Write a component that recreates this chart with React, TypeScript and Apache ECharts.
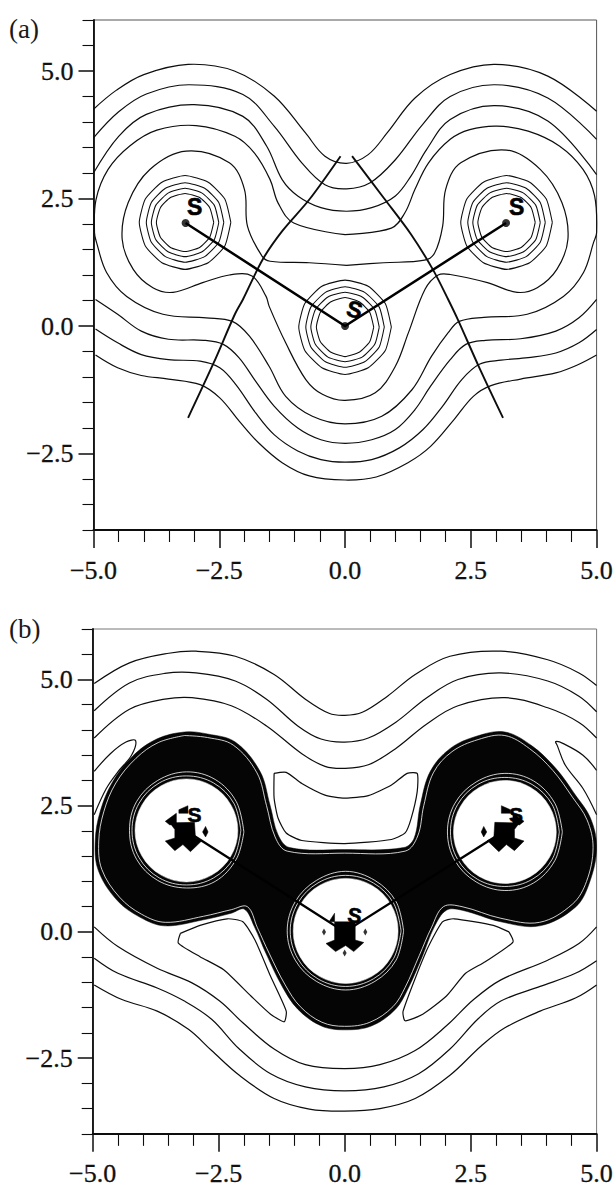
import React, { useEffect, useRef } from "react";
import * as echarts from "echarts";

type P = [number, number];

const xMajorRange = [-5, 5];
const yRange = [-4, 6];
const yMajor = [-2.5, 0, 2.5, 5];
const yMinor = [-4, -3.5, -3, -2, -1.5, -1, -0.5, 0.5, 1, 1.5, 2, 3, 3.5, 4, 4.5, 5.5, 6];
const panelLabels = ["(a)", "(b)"];

// ---------- panel (a) contours ----------
const aTop1: P[] = [[-5, 4.25], [-4.55, 4.62], [-4.0, 4.93], [-3.12, 5.13], [-2.2, 5.0], [-1.41, 4.51], [-0.79, 3.79], [-0.4, 3.33], [0.03, 3.19], [0.46, 3.36], [0.84, 3.79], [1.39, 4.47], [2.09, 4.93], [2.98, 5.13], [4.03, 4.9], [5, 4.21]];
const aTop2: P[] = [[-5, 3.69], [-4.5, 4.2], [-3.95, 4.55], [-3.1, 4.73], [-2.03, 4.54], [-1.41, 3.92], [-0.86, 3.2], [-0.4, 2.77], [0.03, 2.69], [0.5, 2.81], [1, 3.26], [1.54, 3.95], [2.09, 4.5], [2.98, 4.73], [4.03, 4.47], [5, 3.66]];
const aTop3: P[] = [[-5, 3.0], [-4.5, 3.72], [-3.95, 4.15], [-3.0, 4.34], [-2.03, 4.11], [-1.56, 3.53], [-1.25, 2.87], [-0.94, 2.55], [-0.48, 2.32], [0.03, 2.25], [0.53, 2.32], [1, 2.55], [1.31, 2.94], [1.62, 3.46], [2.09, 4.05], [2.98, 4.32], [4.03, 4.02], [5, 2.97]];
const aMid4: P[] = [[0, 1.79], [0.92, 1.92], [1.19, 2.22], [1.39, 2.68], [1.66, 3.2], [2.09, 3.66], [2.48, 3.85], [3.02, 3.92], [3.64, 3.82], [4.26, 3.53], [4.73, 3.07], [4.96, 2.55], [5, 1.83], [4.94, 1.64], [4.74, 1.05], [4.34, 0.58], [3.62, 0.23], [2.76, 0.17], [2.27, 0.09], [2.05, -0.13], [1.72, -0.59], [1.33, -1.25], [0.73, -1.77], [0, -1.92], [-0.65, -1.77], [-1.18, -1.38], [-1.51, -0.79], [-1.9, -0.2], [-2.24, 0.09], [-2.76, 0.16], [-3.62, 0.23], [-4.34, 0.58], [-4.74, 1.05], [-4.94, 1.64], [-4.98, 1.83], [-4.95, 2.48], [-4.71, 3.07], [-4.28, 3.53], [-3.74, 3.84], [-2.96, 3.93], [-2.19, 3.72], [-1.8, 3.39], [-1.49, 2.87], [-1.33, 2.41], [-1.02, 2.02], [0, 1.79]];
const aMid5: P[] = [[0.03, 1.19], [0.77, 1.24], [1.58, 1.29], [1.78, 1.43], [1.94, 1.96], [2.0, 2.68], [2.3, 3.2], [3.21, 3.45], [3.88, 3.07], [4.31, 2.42], [4.43, 1.7], [4.21, 1.11], [3.82, 0.75], [3.42, 0.66], [2.83, 0.85], [2.09, 1.01], [1.85, 1.0], [1.59, 0.72], [1.26, -0.13], [1.0, -0.79], [0.6, -1.31], [0, -1.46], [-0.45, -1.34], [-0.78, -1.05], [-1.18, -0.33], [-1.51, 0.39], [-1.57, 0.58], [-1.85, 0.98], [-2.3, 1.0], [-2.83, 0.85], [-3.42, 0.66], [-3.82, 0.75], [-4.21, 1.11], [-4.43, 1.7], [-4.31, 2.42], [-3.88, 3.07], [-3.16, 3.43], [-2.3, 3.2], [-2.0, 2.68], [-1.94, 1.96], [-1.65, 1.37], [-1.49, 1.27], [-0.71, 1.24], [0.03, 1.19]];
const aLow1: P[] = [[-4.96, 0.52], [-4.52, 0.23], [-4.05, -0.1], [-3.51, -0.26], [-2.81, -0.28], [-2.42, -0.36], [-2.11, -0.62], [-1.8, -1.05], [-1.41, -1.57], [-0.94, -2.0], [-0.48, -2.23], [0, -2.3], [0.53, -2.23], [1.0, -2.03], [1.39, -1.64], [1.7, -1.18], [2.09, -0.66], [2.4, -0.36], [2.79, -0.28], [3.49, -0.25], [4.19, -0.1], [4.65, 0.16], [5, 0.52]];
const aLow2: P[] = [[-4.96, -0.06], [-4.52, -0.33], [-4.05, -0.56], [-3.51, -0.66], [-2.88, -0.69], [-2.49, -0.82], [-2.17, -1.15], [-1.78, -1.7], [-1.41, -2.13], [-0.94, -2.45], [-0.48, -2.62], [0, -2.67], [0.53, -2.62], [1.08, -2.39], [1.55, -2.03], [1.94, -1.57], [2.32, -1.05], [2.67, -0.75], [3.1, -0.67], [3.64, -0.62], [4.19, -0.53], [4.65, -0.33], [5, -0.07]];
const aLow3: P[] = [[-4.96, -0.57], [-4.52, -0.82], [-4.05, -0.97], [-3.51, -1.04], [-2.88, -1.15], [-2.49, -1.41], [-2.1, -1.87], [-1.72, -2.29], [-1.25, -2.68], [-0.71, -2.94], [0, -3.02], [0.62, -2.96], [1.25, -2.68], [1.7, -2.36], [2.17, -1.83], [2.55, -1.38], [2.9, -1.17], [3.49, -1.04], [4.19, -0.92], [4.65, -0.75], [5, -0.57]];
const aContours = [aTop1, aTop2, aTop3, aMid4, aMid5, aLow1, aLow2, aLow3];

const aRingsLeft: P[][] = [
  [[-2.27, 2.03], [-2.39, 2.49], [-2.72, 2.82], [-3.18, 2.95], [-3.64, 2.82], [-3.97, 2.49], [-4.09, 2.03], [-3.97, 1.57], [-3.64, 1.24], [-3.18, 1.11], [-2.72, 1.24], [-2.39, 1.57], [-2.27, 2.03]],
  [[-2.41, 2.03], [-2.51, 2.42], [-2.79, 2.7], [-3.18, 2.81], [-3.57, 2.7], [-3.85, 2.42], [-3.95, 2.03], [-3.85, 1.64], [-3.57, 1.36], [-3.18, 1.25], [-2.79, 1.36], [-2.51, 1.64], [-2.41, 2.03]],
  [[-2.51, 2.03], [-2.6, 2.37], [-2.85, 2.61], [-3.18, 2.7], [-3.51, 2.61], [-3.76, 2.37], [-3.85, 2.03], [-3.76, 1.69], [-3.51, 1.45], [-3.18, 1.36], [-2.85, 1.45], [-2.6, 1.69], [-2.51, 2.03]],
  [[-2.61, 2.03], [-2.69, 2.32], [-2.89, 2.52], [-3.18, 2.6], [-3.47, 2.52], [-3.67, 2.32], [-3.75, 2.03], [-3.67, 1.74], [-3.47, 1.54], [-3.18, 1.46], [-2.89, 1.54], [-2.69, 1.74], [-2.61, 2.03]],
];
const aRingsRight: P[][] = [
  [[4.12, 2.03], [4.0, 2.49], [3.67, 2.82], [3.21, 2.95], [2.75, 2.82], [2.42, 2.49], [2.3, 2.03], [2.42, 1.57], [2.75, 1.24], [3.21, 1.11], [3.67, 1.24], [4.0, 1.57], [4.12, 2.03]],
  [[3.98, 2.03], [3.88, 2.42], [3.6, 2.7], [3.21, 2.81], [2.82, 2.7], [2.54, 2.42], [2.44, 2.03], [2.54, 1.64], [2.82, 1.36], [3.21, 1.25], [3.6, 1.36], [3.88, 1.64], [3.98, 2.03]],
  [[3.88, 2.03], [3.79, 2.37], [3.54, 2.61], [3.21, 2.7], [2.88, 2.61], [2.63, 2.37], [2.54, 2.03], [2.63, 1.69], [2.88, 1.45], [3.21, 1.36], [3.54, 1.45], [3.79, 1.69], [3.88, 2.03]],
  [[3.78, 2.03], [3.7, 2.32], [3.5, 2.52], [3.21, 2.6], [2.92, 2.52], [2.72, 2.32], [2.64, 2.03], [2.72, 1.74], [2.92, 1.54], [3.21, 1.46], [3.5, 1.54], [3.7, 1.74], [3.78, 2.03]],
];
const aRingsCenter: P[][] = [
  [[0.92, -0.02], [0.8, 0.44], [0.46, 0.78], [0, 0.9], [-0.46, 0.78], [-0.8, 0.44], [-0.92, -0.02], [-0.8, -0.48], [-0.46, -0.82], [0, -0.95], [0.46, -0.82], [0.8, -0.48], [0.92, -0.02]],
  [[0.78, -0.02], [0.68, 0.37], [0.39, 0.66], [0, 0.77], [-0.39, 0.66], [-0.68, 0.37], [-0.78, -0.02], [-0.68, -0.41], [-0.39, -0.7], [0, -0.81], [0.39, -0.7], [0.68, -0.41], [0.78, -0.02]],
  [[0.68, -0.02], [0.59, 0.32], [0.34, 0.57], [0, 0.66], [-0.34, 0.57], [-0.59, 0.32], [-0.68, -0.02], [-0.59, -0.36], [-0.34, -0.61], [0, -0.7], [0.34, -0.61], [0.59, -0.36], [0.68, -0.02]],
  [[0.57, -0.02], [0.49, 0.27], [0.29, 0.47], [0, 0.56], [-0.29, 0.47], [-0.49, 0.27], [-0.57, -0.02], [-0.49, -0.31], [-0.29, -0.51], [0, -0.6], [0.29, -0.51], [0.49, -0.31], [0.57, -0.02]],
];
const aSeparatrixLeft: P[] = [[-0.09, 3.33], [-0.71, 2.48], [-1.25, 1.86], [-1.64, 1.3], [-2.03, 0.52], [-2.19, 0.23], [-2.61, -0.72], [-3.12, -1.8]];
const aSeparatrixRight: P[] = [[0.14, 3.33], [0.77, 2.51], [1.31, 1.8], [1.75, 1.1], [2.05, 0.52], [2.24, 0.13], [2.67, -0.82], [3.14, -1.8]];
const atoms: P[] = [[-3.17, 2.02], [0, 0], [3.2, 2.02]];
const aSymbols: [number, number, number][] = [[-2.99, 2.34, 0], [0.19, 0.32, -14], [3.41, 2.34, 0]];

// ---------- panel (b) contours ----------
const bTop1: P[] = [[-4.97, 4.92], [-4.27, 5.33], [-3.49, 5.52], [-2.95, 5.56], [-2.17, 5.46], [-1.4, 5.1], [-0.78, 4.61], [-0.31, 4.33], [0, 4.29], [0.35, 4.35], [0.85, 4.67], [1.4, 5.1], [2.09, 5.46], [3.1, 5.56], [4.03, 5.39], [4.65, 5.13], [5, 4.88]];
const bTop2: P[] = [[-4.97, 4.38], [-4.27, 4.93], [-3.57, 5.12], [-2.95, 5.13], [-2.17, 4.97], [-1.55, 4.61], [-0.93, 4.08], [-0.47, 3.82], [0, 3.76], [0.47, 3.84], [1.01, 4.15], [1.63, 4.64], [2.25, 5.0], [3.1, 5.13], [4.03, 4.97], [4.65, 4.67], [5, 4.36]];
const bTop3: P[] = [[-4.97, 3.84], [-4.27, 4.41], [-3.57, 4.61], [-3.03, 4.64], [-2.25, 4.48], [-1.55, 4.08], [-0.85, 3.53], [-0.39, 3.28], [0, 3.24], [0.47, 3.31], [1.01, 3.63], [1.63, 4.12], [2.25, 4.48], [3.18, 4.64], [4.03, 4.44], [4.65, 4.15], [5, 3.84]];
const bLow1: P[] = [[-4.97, 0.1], [-4.5, -0.29], [-3.72, -0.72], [-3.03, -1.01], [-2.48, -1.37], [-2.02, -1.8], [-1.4, -2.32], [-0.78, -2.63], [0, -2.71], [0.7, -2.63], [1.4, -2.35], [2.02, -1.86], [2.56, -1.34], [3.1, -0.95], [4.03, -0.56], [4.65, -0.23], [5, 0.1]];
const bLow2: P[] = [[-4.97, -0.52], [-4.5, -0.82], [-3.72, -1.11], [-3.18, -1.37], [-2.64, -1.73], [-2.09, -2.32], [-1.47, -2.81], [-0.78, -3.07], [0, -3.15], [0.78, -3.07], [1.47, -2.81], [2.09, -2.32], [2.64, -1.73], [3.1, -1.37], [3.88, -1.08], [4.58, -0.82], [5, -0.57]];
const bLow3: P[] = [[-4.97, -1.05], [-4.42, -1.34], [-3.72, -1.57], [-3.1, -1.93], [-2.64, -2.35], [-2.09, -2.84], [-1.4, -3.3], [-0.7, -3.51], [0, -3.55], [0.7, -3.5], [1.4, -3.3], [2.09, -2.84], [2.72, -2.25], [3.18, -1.9], [3.88, -1.57], [4.58, -1.31], [5, -1.05]];
const bCornerLeft: P[] = [[-4.97, 3.18], [-4.65, 3.53], [-4.34, 3.76], [-4.15, 3.79], [-4.23, 3.5], [-4.5, 3.17], [-4.73, 2.84], [-4.97, 2.32]];
const bCornerRight: P[] = [[5, 3.2], [4.73, 3.5], [4.34, 3.73], [4.19, 3.77], [4.22, 3.69], [4.38, 3.3], [4.73, 2.84], [5, 2.32]];
const bIslandTop: P[] = [[-1.4, 3.14], [-1.16, 3.16], [-0.85, 2.94], [-0.39, 2.71], [0, 2.65], [0.47, 2.7], [0.93, 2.91], [1.24, 3.14], [1.44, 3.14], [1.44, 2.78], [1.32, 2.25], [1.2, 1.96], [0.93, 1.83], [0, 1.75], [-0.85, 1.81], [-1.16, 1.96], [-1.32, 2.25], [-1.4, 2.65], [-1.4, 3.14]];
const bIslandLeft: P[] = [[-3.26, -0.03], [-2.87, 0.13], [-2.33, 0.26], [-2.02, 0.2], [-1.78, -0.16], [-1.47, -0.88], [-1.16, -1.57], [-1.2, -1.78], [-1.47, -1.63], [-1.86, -1.27], [-2.4, -0.75], [-2.87, -0.49], [-3.3, -0.22], [-3.26, -0.03]];
const bIslandRight: P[] = [[3.26, 0], [2.95, 0.13], [2.17, 0.26], [1.94, 0.2], [1.63, -0.36], [1.16, -1.57], [1.2, -1.76], [1.55, -1.63], [2.02, -1.27], [2.4, -0.82], [2.79, -0.59], [3.34, -0.2], [3.26, 0]];
const bContours = [bTop1, bTop2, bTop3, bLow1, bLow2, bLow3, bCornerLeft, bCornerRight];
const bIslands = [bIslandTop, bIslandLeft, bIslandRight];

const bDense: P[] = [[-3.18, 3.96], [-3.73, 3.82], [-4.2, 3.49], [-4.6, 2.98], [-4.85, 2.39], [-4.95, 1.8], [-4.89, 1.22], [-4.52, 0.63], [-4.06, 0.29], [-3.57, 0.12], [-2.8, 0.24], [-2.25, 0.37], [-1.99, 0.45], [-1.79, 0.1], [-1.56, -0.43], [-1.24, -1.08], [-0.93, -1.53], [-0.47, -1.86], [0, -1.94], [0.54, -1.86], [1.01, -1.53], [1.25, -1.14], [1.54, -0.49], [1.78, 0.1], [2.02, 0.43], [2.33, 0.43], [3.1, 0.2], [3.87, 0.12], [4.58, 0.49], [4.86, 0.98], [5, 1.67], [4.88, 2.25], [4.58, 2.71], [4.19, 3.24], [3.71, 3.69], [3.18, 3.96], [2.63, 3.88], [2.09, 3.63], [1.7, 3.18], [1.5, 2.51], [1.38, 1.86], [1.17, 1.67], [0, 1.63], [-1.09, 1.67], [-1.32, 1.92], [-1.48, 2.51], [-1.68, 3.18], [-2.17, 3.76], [-2.72, 3.92]];
const bDenseGap: P[] = [[-3.18, 3.89], [-3.7, 3.75], [-4.14, 3.44], [-4.54, 2.95], [-4.78, 2.38], [-4.88, 1.8], [-4.82, 1.24], [-4.47, 0.69], [-4.03, 0.35], [-3.56, 0.19], [-2.8, 0.31], [-2.25, 0.44], [-1.93, 0.5], [-1.73, 0.08], [-1.5, -0.42], [-1.18, -1.05], [-0.88, -1.48], [-0.45, -1.79], [0, -1.87], [0.5, -1.79], [0.96, -1.48], [1.2, -1.1], [1.48, -0.47], [1.72, 0.08], [1.96, 0.5], [2.33, 0.5], [3.1, 0.27], [3.87, 0.19], [4.52, 0.55], [4.8, 1.0], [4.93, 1.67], [4.81, 2.22], [4.52, 2.67], [4.13, 3.2], [3.67, 3.63], [3.18, 3.89], [2.65, 3.81], [2.13, 3.57], [1.76, 3.15], [1.57, 2.5], [1.45, 1.9], [1.2, 1.6], [0, 1.56], [-1.14, 1.6], [-1.38, 1.88], [-1.55, 2.5], [-1.74, 3.15], [-2.21, 3.7], [-2.72, 3.85], [-3.18, 3.89]];

const bHoles: P[][] = [
  [[-2.12, 2.01], [-2.26, 2.52], [-2.63, 2.89], [-3.14, 3.03], [-3.65, 2.89], [-4.02, 2.52], [-4.16, 2.01], [-4.02, 1.5], [-3.65, 1.13], [-3.14, 0.99], [-2.63, 1.13], [-2.26, 1.5]],
  [[4.2, 1.98], [4.06, 2.49], [3.69, 2.86], [3.18, 3.0], [2.67, 2.86], [2.3, 2.49], [2.16, 1.98], [2.3, 1.47], [2.67, 1.1], [3.18, 0.96], [3.69, 1.1], [4.06, 1.47]],
  [[1.06, 0.02], [0.92, 0.54], [0.54, 0.92], [0.02, 1.06], [-0.5, 0.92], [-0.88, 0.54], [-1.02, 0.02], [-0.88, -0.5], [-0.5, -0.88], [0.02, -1.02], [0.54, -0.88], [0.92, -0.5]],
];
const bHoleRings: P[][] = [
  [[-2.06, 2.01], [-2.2, 2.55], [-2.6, 2.95], [-3.14, 3.09], [-3.68, 2.95], [-4.08, 2.55], [-4.22, 2.01], [-4.08, 1.47], [-3.68, 1.07], [-3.14, 0.93], [-2.6, 1.07], [-2.2, 1.47], [-2.06, 2.01]],
  [[-2.0, 1.98], [-2.15, 2.58], [-2.57, 3.02], [-3.14, 3.17], [-3.71, 3.0], [-4.13, 2.58], [-4.27, 2.01], [-4.13, 1.44], [-3.71, 1.02], [-3.14, 0.87], [-2.57, 1.0], [-2.15, 1.44], [-2.0, 1.98]],
  [[4.26, 1.98], [4.12, 2.52], [3.72, 2.92], [3.18, 3.06], [2.64, 2.92], [2.24, 2.52], [2.1, 1.98], [2.24, 1.44], [2.64, 1.04], [3.18, 0.9], [3.72, 1.04], [4.12, 1.44], [4.26, 1.98]],
  [[4.32, 1.98], [4.17, 2.55], [3.75, 2.99], [3.18, 3.14], [2.61, 2.97], [2.19, 2.55], [2.04, 1.98], [2.19, 1.41], [2.61, 0.99], [3.18, 0.82], [3.75, 0.97], [4.17, 1.41], [4.32, 1.98]],
  [[1.12, 0.02], [0.97, 0.57], [0.57, 0.97], [0.02, 1.12], [-0.53, 0.97], [-0.93, 0.57], [-1.08, 0.02], [-0.93, -0.53], [-0.53, -0.93], [0.02, -1.08], [0.57, -0.93], [0.97, -0.53], [1.12, 0.02]],
  [[1.17, 0.02], [1.02, 0.6], [0.6, 1.02], [0.02, 1.2], [-0.56, 1.02], [-0.98, 0.6], [-1.14, 0.02], [-0.98, -0.56], [-0.56, -0.98], [0.02, -1.15], [0.6, -0.98], [1.02, -0.56], [1.17, 0.02]],
];
const bCores: P[][] = [
  [[-3.47, 2.16], [-2.98, 2.17], [-2.96, 1.86], [-2.83, 1.81], [-3.06, 1.59], [-3.21, 1.73], [-3.37, 1.61], [-3.56, 1.8], [-3.37, 1.86], [-3.37, 2.03]],
  [[-3.56, 2.19], [-3.34, 2.35], [-3.34, 2.14], [-3.47, 2.12]],
  [[-3.29, 2.42], [-3.11, 2.5], [-3.11, 2.35], [-3.29, 2.35]],
  [[-2.76, 2.09], [-2.71, 1.98], [-2.76, 1.88], [-2.82, 1.98]],
  [[3.47, 2.16], [2.98, 2.17], [2.96, 1.86], [2.83, 1.81], [3.06, 1.59], [3.21, 1.73], [3.37, 1.61], [3.56, 1.8], [3.37, 1.86], [3.37, 2.03]],
  [[3.56, 2.19], [3.34, 2.35], [3.34, 2.14], [3.47, 2.12]],
  [[3.29, 2.42], [3.11, 2.5], [3.11, 2.35], [3.29, 2.35]],
  [[2.76, 2.09], [2.71, 1.98], [2.76, 1.88], [2.82, 1.98]],
  [[-0.2, 0.37], [-0.31, 0.2], [-0.2, 0.2]],
  [[-0.2, 0.2], [0.21, 0.2], [0.21, -0.16], [0.38, -0.21], [0.18, -0.39], [0.02, -0.27], [-0.18, -0.39], [-0.37, -0.23], [-0.2, -0.16]],
];
const bCoreDots: P[] = [[-0.41, 0], [0.41, 0], [0, -0.42]];
const bSymbols: [number, number, number][] = [[-2.98, 2.33, 0], [0.2, 0.33, -8], [3.4, 2.32, 0]];

const INK = "#0d0d0d";

function App() {
  const ref = useRef<HTMLDivElement>(null);
  useEffect(() => {
    const chart = echarts.init(ref.current!, undefined, { renderer: "svg" });
    const lineS = (panel: number, pts: P[], o: any = {}) => ({
      type: "custom",
      xAxisIndex: panel,
      yAxisIndex: panel * 2,
      data: [pts[0]],
      silent: true,
      clip: true,
      z: o.z ?? 3,
      renderItem: (_: any, api: any) => ({
        type: "polyline",
        shape: { points: pts.map((p) => api.coord(p)), smooth: o.smooth ?? 0.36 },
        style: { fill: "none", stroke: o.color ?? INK, lineWidth: o.width ?? 1.2 },
      }),
    });
    const polyS = (panel: number, pts: P[], fill: string, z: number, smooth = 0) => ({
      type: "custom",
      xAxisIndex: panel,
      yAxisIndex: panel * 2,
      data: [pts[0]],
      silent: true,
      z,
      clip: true,
      renderItem: (_: any, api: any) => ({
        type: "polygon",
        shape: { points: pts.map((p) => api.coord(p)), smooth },
        style: { fill, stroke: fill, lineWidth: 0.5 },
      }),
    });
    const labelS = (panel: number, syms: [number, number, number][], size: number) => ({
      type: "scatter",
      xAxisIndex: panel,
      yAxisIndex: panel * 2,
      symbolSize: 1,
      itemStyle: { color: "#000", opacity: 0 },
      silent: true,
      z: 8,
      data: syms.map((s) => ({
        value: [s[0], s[1]],
        label: {
          show: true,
          position: "inside",
          formatter: "S",
          rotate: s[2],
          color: "#000",
          opacity: 1,
          textBorderColor: "#000",
          textBorderWidth: 0.6,
          fontFamily: "Liberation Sans",
          fontWeight: "bold",
          fontSize: size,
        },
      })),
    });

    const series: any[] = [];
    aContours.forEach((c) => series.push(lineS(0, c)));
    [...aRingsLeft, ...aRingsRight, ...aRingsCenter].forEach((c) => series.push(lineS(0, c, { smooth: 0.18, width: 1.05 })));
    series.push(lineS(0, aSeparatrixLeft, { width: 1.9, smooth: 0.3, z: 5 }));
    series.push(lineS(0, aSeparatrixRight, { width: 1.9, smooth: 0.3, z: 5 }));
    series.push(lineS(0, atoms, { width: 2.5, smooth: 0, z: 6, color: "#000" }));
    series.push({
      type: "scatter",
      xAxisIndex: 0,
      yAxisIndex: 0,
      data: atoms,
      symbolSize: 8,
      silent: true,
      itemStyle: { color: "#000" },
      z: 7,
    });
    series.push(labelS(0, aSymbols, 23));

    bContours.forEach((c) => series.push(lineS(1, c)));
    bIslands.forEach((c) => series.push(lineS(1, c, { smooth: 0.2 })));
    series.push(polyS(1, bDense, "#050505", 4, 0.36));
    series.push(lineS(1, bDenseGap, { color: "#fff", width: 0.8, z: 4.5 }));
    bHoles.forEach((h) => series.push(polyS(1, h, "#fff", 5, 0.36)));
    bHoleRings.forEach((r) => series.push(lineS(1, r, { color: "#fff", width: 0.8, z: 4.6 })));
    series.push(lineS(1, atoms, { width: 2.4, smooth: 0, z: 6, color: "#000" }));
    bCores.forEach((c) => series.push(polyS(1, c, "#000", 6)));
    series.push({
      type: "scatter",
      xAxisIndex: 1,
      yAxisIndex: 2,
      data: bCoreDots,
      symbol: "diamond",
      symbolSize: [4, 7],
      silent: true,
      itemStyle: { color: "#000" },
      z: 6,
    });
    series.push(labelS(1, bSymbols, 21));

    const fmt = (v: number) => (v < 0 ? "\u2212" : "") + Math.abs(v).toFixed(1);
    const labelFont = {
      fontFamily: "Liberation Serif",
      fontSize: 26,
      color: "#111",
      textBorderColor: "#111",
      textBorderWidth: 0.3,
    };
    const xAxisOf = (gridIndex: number) => ({
      type: "value",
      gridIndex,
      position: "bottom",
      min: xMajorRange[0],
      max: xMajorRange[1],
      interval: 2.5,
      splitLine: { show: false },
      minorSplitLine: { show: false },
      axisLine: { show: true, onZero: false, lineStyle: { color: INK, width: 1.8 } },
      axisTick: { show: true, inside: false, length: 18, lineStyle: { color: INK, width: 1.5 } },
      minorTick: { show: true, splitNumber: 5, length: 12, lineStyle: { color: INK, width: 1.1 } },
      axisLabel: { ...labelFont, margin: 27, hideOverlap: false, showMinLabel: true, showMaxLabel: true, formatter: fmt },
    });
    const yAxesOf = (gridIndex: number) => [
      {
        type: "value",
        gridIndex,
        position: "left",
        min: yRange[0],
        max: yRange[1],
        splitLine: { show: false },
        axisLine: { show: true, onZero: false, lineStyle: { color: INK, width: 1.8 } },
        axisTick: { show: true, length: 15, customValues: yMajor, lineStyle: { color: INK, width: 1.5 } },
        axisLabel: { ...labelFont, margin: 20, customValues: yMajor, formatter: fmt },
      },
      {
        type: "value",
        gridIndex,
        position: "left",
        min: yRange[0],
        max: yRange[1],
        splitLine: { show: false },
        axisLine: { show: false, onZero: false },
        axisTick: { show: true, length: 11, customValues: yMinor, lineStyle: { color: INK, width: 1.1 } },
        axisLabel: { show: false },
      },
    ];

    chart.setOption({
      animation: false,
      backgroundColor: "#fff",
      grid: [
        { left: 93.5, top: 20, width: 505.5, height: 510, show: true, borderColor: "#555", borderWidth: 1, backgroundColor: "transparent" },
        { left: 92.7, top: 629, width: 506.3, height: 510, show: true, borderColor: "#777", borderWidth: 1, backgroundColor: "transparent" },
      ],
      xAxis: [xAxisOf(0), xAxisOf(1)],
      yAxis: [...yAxesOf(0), ...yAxesOf(1)],
      series,
      graphic: [
        { type: "text", x: 9, y: 15, style: { text: panelLabels[0], font: "27px 'Liberation Serif'", fill: "#1a1a1a" } },
        { type: "text", x: 9, y: 615, style: { text: panelLabels[1], font: "27px 'Liberation Serif'", fill: "#1a1a1a" } },
      ],
    });
    return () => chart.dispose();
  }, []);
  return <div ref={ref} style={{ position: "absolute", left: 0, top: 0, width: 616, height: 1187 }} />;
}

export default App;
